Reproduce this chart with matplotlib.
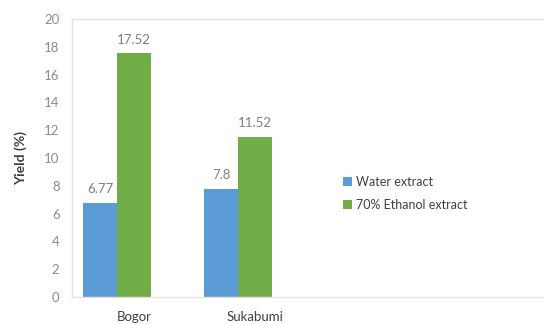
import matplotlib
matplotlib.use("Agg")
import matplotlib.pyplot as plt
import matplotlib.transforms as mtransforms
import numpy as np

regions = ["Bogor", "Sukabumi"]
water = [6.77, 7.8]
ethanol = [17.52, 11.52]
series_names = ["Water extract", "70% Ethanol extract"]
y_ticks = [0, 2, 4, 6, 8, 10, 12, 14, 16, 18, 20]

plt.rcParams["font.family"] = ["Lato", "DejaVu Sans"]

fig = plt.figure(figsize=(5.44, 3.25), dpi=100)
ax = fig.add_axes([0.1324, 0.0862, 0.8676, 0.8553])

x = np.arange(len(regions))
w = 0.28
blue = "#5B9BD5"
green = "#70AD47"
b1 = ax.bar(x - w / 2, water, w, color=blue, label=series_names[0])
b2 = ax.bar(x + w / 2, ethanol, w, color=green, label=series_names[1])

for bars, vals in ((b1, water), (b2, ethanol)):
    for r, v in zip(bars, vals):
        ax.text(r.get_x() + r.get_width() / 2, v + 0.55, f"{v:g}",
                ha="center", va="bottom", fontsize=9.5, color="#7F7F7F")

ax.set_ylim(0, 20)
ax.set_yticks(y_ticks)
ax.set_xlim(-0.372, 3.53)
ax.set_xticks(x)
ax.set_xticklabels(regions, fontsize=9.5, color="#404040")
ax.tick_params(axis="y", length=0, pad=9, labelsize=9.5, labelcolor="#8C8C8C")
ax.tick_params(axis="x", length=0, pad=10)

# category labels sit slightly right of the bar-group centre
shift = mtransforms.ScaledTranslation(17 / 100, 0, fig.dpi_scale_trans)
for lbl in ax.get_xticklabels():
    lbl.set_transform(lbl.get_transform() + shift)

for side in ("left", "top", "bottom"):
    ax.spines[side].set_color("#E3E3E3")
    ax.spines[side].set_linewidth(1.0)
ax.spines["right"].set_visible(False)

ax.set_ylabel("Yield (%)", fontsize=10, fontweight="bold", color="#404040",
              labelpad=12)

ax.legend(loc="upper left", bbox_to_anchor=(0.551, 0.475), frameon=False,
          fontsize=9, handlelength=0.7, handleheight=0.7,
          handletextpad=0.3, labelspacing=0.85, labelcolor="#404040")

fig.savefig("out.png", dpi=100)
